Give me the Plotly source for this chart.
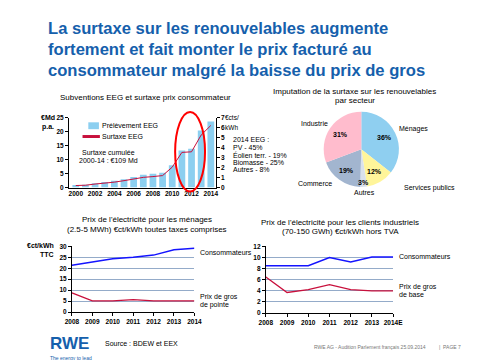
import plotly.graph_objects as go
import math

W, H = 481, 360
def px(x): return x / W
def py(y): return 1 - y / H

FONT = "Liberation Sans, Arial, sans-serif"
BLUE_T = "#1560ac"
BAR_C = "#8ccff0"
RED = "#c8103c"
LBLUE = "#1414ff"
GRID = "#94abc9"

# ---------------- data ----------------
title_lines = ["La surtaxe sur les renouvelables augmente",
               "fortement et fait monter le prix facturé au",
               "consommateur malgré la baisse du prix de gros"]

years = list(range(2000, 2015))
eeg_payments = [0.9, 1.0, 1.5, 2.0, 2.4, 3.0, 3.8, 4.6, 4.9, 5.3, 8.0, 13.3, 13.9, 20.5, 23.7]   # € Md p.a.
eeg_surcharge = [0.2, 0.23, 0.35, 0.42, 0.54, 0.69, 0.88, 1.02, 1.1, 1.2, 2.05, 3.53, 3.59, 5.28, 6.24]  # €cts/kWh
bar_ticks = list(range(2000, 2015, 2))

sectors = ["Ménages", "Services publics", "Autres", "Commerce", "Industrie"]
shares = [36, 12, 3, 19, 31]
sector_colors = ["#8fcff0", "#fff59a", "#d9e1ec", "#a2b5cf", "#ffbccd"]

hh_years = list(range(2008, 2015))
hh_consumer = [21.4, 22.8, 24.3, 25.0, 26.0, 28.4, 29.1]
hh_peak = [8.8, 5.1, 5.1, 5.7, 5.1, 5.1, 5.1]

ind_years = list(range(2008, 2015))
ind_ticktext = ["2008", "2009", "2010", "2011", "2012", "2013", "2014E"]
ind_consumer = [8.5, 8.5, 8.5, 10.0, 9.2, 10.1, 10.1]
ind_base = [6.5, 3.7, 4.2, 5.1, 4.2, 4.0, 4.0]

# ---------------- figure ----------------
fig = go.Figure()

fig.add_trace(go.Bar(x=years, y=eeg_payments, marker=dict(color=BAR_C, line=dict(width=0)),
                     width=0.7, xaxis="x", yaxis="y", showlegend=False))
fig.add_trace(go.Scatter(x=years, y=eeg_surcharge, mode="lines", line=dict(color=RED, width=1),
                         xaxis="x", yaxis="y2", showlegend=False))

fig.add_trace(go.Pie(labels=sectors, values=shares, sort=False, direction="clockwise", rotation=0,
                     marker=dict(colors=sector_colors, line=dict(width=0)), textinfo="none",
                     hoverinfo="label+percent", showlegend=False,
                     domain=dict(x=[px(320), px(398)], y=[py(179), py(101)])))

fig.add_trace(go.Scatter(x=hh_years, y=hh_consumer, mode="lines", line=dict(color=LBLUE, width=1.5),
                         xaxis="x3", yaxis="y3", showlegend=False))
fig.add_trace(go.Scatter(x=hh_years, y=hh_peak, mode="lines", line=dict(color=RED, width=1.3),
                         xaxis="x3", yaxis="y3", showlegend=False))

fig.add_trace(go.Scatter(x=ind_years, y=ind_consumer, mode="lines", line=dict(color=LBLUE, width=1.5),
                         xaxis="x4", yaxis="y4", showlegend=False))
fig.add_trace(go.Scatter(x=ind_years, y=ind_base, mode="lines", line=dict(color=RED, width=1.3),
                         xaxis="x4", yaxis="y4", showlegend=False))

tickf = dict(family=FONT, size=6.5, color="black", weight="bold")
axis_common = dict(showline=True, linecolor="black", linewidth=1, ticks="outside", ticklen=3,
                   tickcolor="black", tickfont=tickf, zeroline=False, fixedrange=True)

fig.update_layout(
    width=W, height=H, margin=dict(l=0, r=0, t=0, b=0),
    paper_bgcolor="white", plot_bgcolor="rgba(0,0,0,0)",
    font=dict(family=FONT, size=7, color="black"),
    bargap=0.3,
    xaxis=dict(domain=[px(56), px(208)], range=[1999.3, 2014.5], anchor="y",
               tickvals=bar_ticks, ticktext=[str(v) for v in bar_ticks], showgrid=False,
               **{**axis_common, "ticks": ""}),
    yaxis=dict(domain=[py(179), py(108)], range=[0, 25], dtick=5, anchor="x", showgrid=False,
               **axis_common),
    yaxis2=dict(range=[0, 7], dtick=1, overlaying="y", side="right", anchor="x", showgrid=False,
                **axis_common),
    xaxis3=dict(domain=[px(59), px(186)], range=[2007.999, 2014.001], anchor="y3", dtick=1,
                showgrid=False, **axis_common),
    yaxis3=dict(domain=[py(306), py(239)], range=[0, 30], dtick=5, anchor="x3", showgrid=True,
                gridcolor=GRID, gridwidth=1.2, **axis_common),
    xaxis4=dict(domain=[px(260), px(392)], range=[2007.999, 2014.001], anchor="y4",
                tickvals=ind_years, ticktext=ind_ticktext, showgrid=False, **axis_common),
    yaxis4=dict(domain=[py(307), py(239)], range=[0, 12], dtick=2, anchor="x4", showgrid=True,
                gridcolor=GRID, gridwidth=1.2, **axis_common),
)

ann = []
def txt(x, y, s, size=7, xanchor="left", color="black", bold=False, align=None, yanchor="middle"):
    ann.append(dict(xref="paper", yref="paper", x=px(x), y=py(y), text=s, showarrow=False,
                    xanchor=xanchor, yanchor=yanchor, align=align or xanchor, borderpad=0,
                    font=dict(family=FONT, size=size, color=color, weight="bold" if bold else "normal")))

# main title
for i, line in enumerate(title_lines):
    txt(33, 17 + i * 21.5, line, size=16.6, color=BLUE_T, bold=True)

# bar chart texts
txt(135, 87, "Subventions EEG et surtaxe prix consommateur", size=8, xanchor="center")
txt(42, 108, "€Md", size=7, xanchor="right", bold=True)
txt(41, 117, "p.a.", size=7, xanchor="right", bold=True)
txt(217, 108, "€cts/", size=6.5)
txt(217, 118, "kWh", size=6.5)
txt(89, 116, "Prélèvement EEG", size=7)
txt(89, 127, "Surtaxe EEG", size=7)
txt(97, 143, "Surtaxe cumulée", size=7, xanchor="center")
txt(97, 151, "2000-14 : €109 Md", size=7, xanchor="center")
eeg_mix = ["2014 EEG :", "PV - 45%", "Éolien terr. - 19%", "Biomasse - 25%", "Autres - 8%"]
for i, s in enumerate(eeg_mix):
    txt(225, 130.5 + i * 7.6, s, size=7)

# pie texts
txt(352, 81, "Imputation de la surtaxe sur les renouvelables", size=8, xanchor="center")
txt(352, 90, "par secteur", size=8, xanchor="center")
cx, cy, R = 359, 140, 39
tot = sum(shares)
start = 0.0
for s, v in zip(sectors, shares):
    ang = (start + v / 2) / tot * 2 * math.pi
    rr = R * (0.88 if v < 5 else 0.68)
    txt(cx + rr * math.sin(ang), cy - rr * math.cos(ang), f"{v}%", size=7, xanchor="center", bold=True)
    start += v
txt(325, 114, "Industrie", size=7, xanchor="right")
txt(397, 119, "Ménages", size=7)
txt(402, 179, "Services publics", size=7)
txt(362, 184, "Autres", size=7, xanchor="center")
txt(330, 175, "Commerce", size=7, xanchor="right")

# bottom-left texts
txt(137, 212, "Prix de l'électricité pour les ménages", size=8, xanchor="center")
txt(137, 222, "(2.5-5 MWh) €ct/kWh toutes taxes comprises", size=8, xanchor="center")
txt(41, 238, "€ct/kWh", size=7, xanchor="right", bold=True)
txt(41, 247, "TTC", size=7, xanchor="right", bold=True)
txt(191, 245, "Consommateurs", size=7)
txt(191, 291, "Prix de gros", size=7)
txt(191, 299, "de pointe", size=7)

# bottom-right texts
txt(337, 215, "Prix de l'électricité pour les clients industriels", size=8, xanchor="center")
txt(337, 224, "(70-150 GWh) €ct/kWh hors TVA", size=8, xanchor="center")
txt(397, 249, "Consommateurs", size=7)
txt(397, 280, "Prix de gros", size=7)
txt(397, 288, "de base", size=7)

# footer
txt(35, 338, "RWE", size=17, color=BLUE_T, bold=True)
txt(35, 352.5, "The energy to lead", size=5, color=BLUE_T)
txt(92, 338, "Source : BDEW et EEX", size=7)
txt(309, 342, "RWE AG - Audition Parlement français 25.09.2014", size=5, color="#777777")
txt(438, 342, "|  PAGE 7", size=5, color="#777777")

fig.update_layout(annotations=ann)

shapes = [
    dict(type="rect", xref="paper", yref="paper", x0=px(76), x1=px(87), y0=py(119.5), y1=py(112.5),
         fillcolor=BAR_C, line=dict(width=0)),
    dict(type="line", xref="paper", yref="paper", x0=px(70), x1=px(88), y0=py(127), y1=py(127),
         line=dict(color=RED, width=3)),
    dict(type="circle", xref="paper", yref="paper", x0=px(166), x1=px(197), y0=py(183), y1=py(102),
         line=dict(color="#ff0000", width=2)),
]
fig.update_layout(shapes=shapes)

fig.write_html("out.html")
